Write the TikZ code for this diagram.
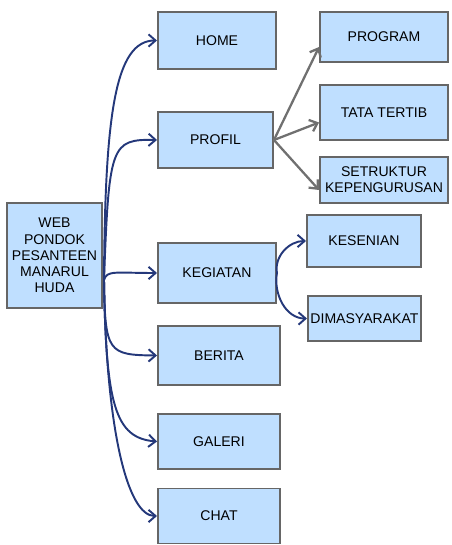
\documentclass[tikz,border=0pt]{standalone}
\usepackage{fontspec}
\setmainfont{Liberation Sans}
\usetikzlibrary{arrows.meta}

\definecolor{boxfill}{HTML}{BFDFFF}
\definecolor{boxline}{HTML}{666666}
\definecolor{navy}{HTML}{24387A}
\definecolor{greyline}{HTML}{707070}

\begin{document}
\begin{tikzpicture}[
    menu/.style={rectangle, draw=boxline, fill=boxfill, line width=1.1pt, text centered, align=center, inner sep=1pt, font=\fontsize{8}{9.2}\selectfont},
    link/.style={-{Straight Barb[length=4pt,width=7pt]}, draw=navy, line width=1.1pt},
    sublink/.style={-{Straight Barb[length=4pt,width=7pt]}, draw=greyline, line width=1.3pt}
]
\useasboundingbox (0,0) rectangle (9.04,10.9);

% Root
\node[menu, minimum width=1.9cm, minimum height=2.1cm] (web) at (1.09,5.79) {WEB\\PONDOK\\PESANTEEN\\MANARUL\\HUDA};

% Main menu
\node[menu, minimum width=2.36cm, minimum height=1.14cm] (home) at (4.34,10.09) {HOME};
\node[menu, minimum width=2.3cm, minimum height=1.12cm] (profil) at (4.31,8.10) {PROFIL};
\node[menu, minimum width=2.36cm, minimum height=1.2cm] (kegiatan) at (4.34,5.44) {KEGIATAN};
\node[menu, minimum width=2.44cm, minimum height=1.18cm] (berita) at (4.38,3.79) {BERITA};
\node[menu, minimum width=2.44cm, minimum height=1.1cm] (galeri) at (4.38,2.07) {GALERI};
\node[menu, minimum width=2.44cm, minimum height=1.1cm] (chat) at (4.38,0.58) {CHAT};

% Sub menu
\node[menu, minimum width=2.56cm, minimum height=1.0cm] (program) at (7.68,10.16) {PROGRAM};
\node[menu, minimum width=2.56cm, minimum height=1.1cm] (tatatertib) at (7.68,8.65) {TATA TERTIB};
\node[menu, minimum width=2.56cm, minimum height=0.92cm] (struktur) at (7.68,7.30) {SETRUKTUR\\KEPENGURUSAN};
\node[menu, minimum width=2.28cm, minimum height=1.04cm] (kesenian) at (7.28,6.08) {KESENIAN};
\node[menu, minimum width=2.26cm, minimum height=0.9cm] (dimasyarakat) at (7.29,4.53) {DIMASYARAKAT};

\coordinate (hub) at (2.08,5.30);

% Arrows
\draw[link] (hub) .. controls (2.1,8.6) and (2.3,10.09) .. (home.west);
\draw[link] (hub) .. controls (2.18,8.0) and (2.22,8.12) .. (profil.west);
\draw[link] (hub) .. controls (2.14,5.5) and (2.3,5.44) .. (kegiatan.west);
\draw[link] (hub) .. controls (2.1,3.85) and (2.16,3.80) .. (berita.west);
\draw[link] (hub) .. controls (2.12,2.8) and (2.3,2.14) .. (galeri.west);
\draw[link] (hub) .. controls (2.12,2.3) and (2.55,0.58) .. (chat.west);
\draw[sublink] (profil.east) -- ([yshift=-0.2cm]program.west);
\draw[sublink] (profil.east) -- ([yshift=-0.2cm]tatatertib.west);
\draw[sublink] (profil.east) -- ([yshift=-0.2cm]struktur.west);
\draw[link] (kegiatan.east) to[out=100,in=180] (kesenian.west);
\draw[link] (kegiatan.east) to[out=-100,in=180] (dimasyarakat.west);

\end{tikzpicture}
\end{document}
